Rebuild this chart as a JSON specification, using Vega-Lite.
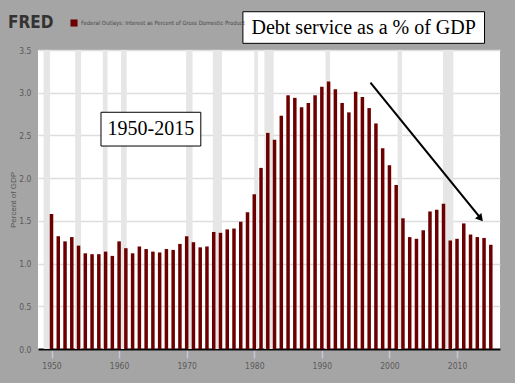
{
  "$schema": "https://vega.github.io/schema/vega-lite/v6.json",
  "width": 462,
  "height": 299,
  "autosize": {"type": "none"},
  "padding": {"left": 38, "top": 50, "right": 15, "bottom": 34},
  "background": "#a5a5a5",
  "datasets": {
    "series": [
      {"year": 1950, "value": 1.58}, {"year": 1951, "value": 1.32}, {"year": 1952, "value": 1.26},
      {"year": 1953, "value": 1.31}, {"year": 1954, "value": 1.21}, {"year": 1955, "value": 1.12},
      {"year": 1956, "value": 1.11}, {"year": 1957, "value": 1.11}, {"year": 1958, "value": 1.14},
      {"year": 1959, "value": 1.09}, {"year": 1960, "value": 1.26}, {"year": 1961, "value": 1.18},
      {"year": 1962, "value": 1.12}, {"year": 1963, "value": 1.20}, {"year": 1964, "value": 1.17},
      {"year": 1965, "value": 1.14}, {"year": 1966, "value": 1.13}, {"year": 1967, "value": 1.17},
      {"year": 1968, "value": 1.16}, {"year": 1969, "value": 1.23}, {"year": 1970, "value": 1.32},
      {"year": 1971, "value": 1.25}, {"year": 1972, "value": 1.19}, {"year": 1973, "value": 1.20},
      {"year": 1974, "value": 1.37}, {"year": 1975, "value": 1.36}, {"year": 1976, "value": 1.40},
      {"year": 1977, "value": 1.41}, {"year": 1978, "value": 1.49}, {"year": 1979, "value": 1.60},
      {"year": 1980, "value": 1.81}, {"year": 1981, "value": 2.12}, {"year": 1982, "value": 2.53},
      {"year": 1983, "value": 2.45}, {"year": 1984, "value": 2.73}, {"year": 1985, "value": 2.97},
      {"year": 1986, "value": 2.94}, {"year": 1987, "value": 2.83}, {"year": 1988, "value": 2.88},
      {"year": 1989, "value": 2.97}, {"year": 1990, "value": 3.07}, {"year": 1991, "value": 3.13},
      {"year": 1992, "value": 3.04}, {"year": 1993, "value": 2.88}, {"year": 1994, "value": 2.77},
      {"year": 1995, "value": 3.01}, {"year": 1996, "value": 2.95}, {"year": 1997, "value": 2.82},
      {"year": 1998, "value": 2.64}, {"year": 1999, "value": 2.35}, {"year": 2000, "value": 2.15},
      {"year": 2001, "value": 1.92}, {"year": 2002, "value": 1.53}, {"year": 2003, "value": 1.31},
      {"year": 2004, "value": 1.29}, {"year": 2005, "value": 1.39}, {"year": 2006, "value": 1.61},
      {"year": 2007, "value": 1.63}, {"year": 2008, "value": 1.70}, {"year": 2009, "value": 1.27},
      {"year": 2010, "value": 1.29}, {"year": 2011, "value": 1.47}, {"year": 2012, "value": 1.34},
      {"year": 2013, "value": 1.31}, {"year": 2014, "value": 1.30}, {"year": 2015, "value": 1.22}
    ],
    "recessions": [
      {"start": 1948.83, "end": 1949.79},
      {"start": 1953.5, "end": 1954.37},
      {"start": 1957.58, "end": 1958.29},
      {"start": 1960.29, "end": 1961.12},
      {"start": 1969.92, "end": 1970.87},
      {"start": 1973.87, "end": 1975.21},
      {"start": 1980.0, "end": 1980.54},
      {"start": 1981.5, "end": 1982.87},
      {"start": 1990.54, "end": 1991.21},
      {"start": 2001.21, "end": 2001.87},
      {"start": 2007.92, "end": 2009.46}
    ],
    "boxes": [
      {"x1": 1957.32, "x2": 1972.09, "y1": 2.376, "y2": 2.771, "xc": 1964.71, "yc": 2.573, "label": "1950-2015"},
      {"x1": 1978.32, "x2": 2014.07, "y1": 3.578, "y2": 3.948, "xc": 1996.19, "yc": 3.763, "label": "Debt service as a % of GDP"}
    ],
    "arrow": [
      {"x": 1997.19, "y": 3.117, "order": 1},
      {"x": 2013.3, "y": 1.55, "order": 2}
    ],
    "arrowhead": [
      {"x": 2013.48, "y": 1.527}
    ]
  },
  "layer": [
    {
      "data": {"name": "recessions"},
      "mark": {"type": "rect", "color": "#e6e6e6"},
      "encoding": {
        "x": {"field": "start", "type": "quantitative", "scale": {"domain": [1948.74, 2015.62], "nice": false, "zero": false}},
        "x2": {"field": "end"}
      }
    },
    {
      "data": {"name": "series"},
      "mark": {"type": "bar", "size": 3.5},
      "encoding": {
        "x": {
          "field": "year", "type": "quantitative",
          "scale": {"domain": [1948.74, 2015.62], "nice": false, "zero": false},
          "axis": {
            "title": null,
            "values": [1950, 1955, 1960, 1965, 1970, 1975, 1980, 1985, 1990, 1995, 2000, 2005, 2010, 2015],
            "format": "d", "grid": false, "domainColor": "#000000", "domainWidth": 2,
            "tickColor": "#c2c8d4", "tickSize": 9, "tickWidth": 1.5,
            "labelColor": "#5a5a5a", "labelFont": "Liberation Sans Narrow, DejaVu Sans Condensed, Liberation Sans, sans-serif", "labelFontSize": 8.5, "labelPadding": 3
          }
        },
        "y": {
          "field": "value", "type": "quantitative",
          "scale": {"domain": [0, 3.5], "nice": false},
          "axis": {
            "title": "Percent of GDP",
            "values": [0, 0.5, 1, 1.5, 2, 2.5, 3, 3.5], "format": ".1f",
            "domain": false, "ticks": false, "gridColor": "#dddddd", "gridWidth": 1.5,
            "labelColor": "#5a5a5a", "labelFont": "Liberation Sans Narrow, DejaVu Sans Condensed, Liberation Sans, sans-serif", "labelFontSize": 8.5, "labelPadding": 7,
            "titleColor": "#555555", "titleFont": "Liberation Sans, sans-serif", "titleFontSize": 8, "titleFontWeight": "normal", "titlePadding": 1
          }
        },
        "color": {
          "datum": "Federal Outlays: Interest as Percent of Gross Domestic Product",
          "scale": {"range": ["#6c0000"]},
          "legend": {
            "orient": "none", "legendX": -30, "legendY": -31,
            "title": "FRED", "titleOrient": "left", "titleFont": "Liberation Sans Narrow, DejaVu Sans Condensed, Liberation Sans, sans-serif",
            "titleFontSize": 17, "titleFontWeight": "bold", "titleColor": "#333333", "titlePadding": 16, "titleBaseline": "middle",
            "symbolType": "square", "symbolSize": 50, "symbolStrokeWidth": 0,
            "labelFont": "Liberation Sans Narrow, DejaVu Sans Condensed, Liberation Sans, sans-serif", "labelFontSize": 5.8, "labelColor": "#4a4a4a", "labelOffset": 3, "labelLimit": 400, "padding": 0
          }
        }
      }
    },
    {
      "data": {"name": "boxes"},
      "mark": {"type": "rect", "fill": "#ffffff", "stroke": "#000000", "strokeWidth": 1},
      "encoding": {
        "x": {"field": "x1", "type": "quantitative", "scale": {"domain": [1948.74, 2015.62], "nice": false, "zero": false}},
        "x2": {"field": "x2"},
        "y": {"field": "y1", "type": "quantitative"},
        "y2": {"field": "y2"}
      }
    },
    {
      "data": {"name": "boxes"},
      "mark": {"type": "text", "font": "Liberation Serif", "fontSize": 20, "color": "#000000", "align": "center", "baseline": "middle"},
      "encoding": {
        "x": {"field": "xc", "type": "quantitative"},
        "y": {"field": "yc", "type": "quantitative"},
        "text": {"field": "label"}
      }
    },
    {
      "data": {"name": "arrow"},
      "mark": {"type": "line", "color": "#000000", "strokeWidth": 2},
      "encoding": {
        "x": {"field": "x", "type": "quantitative"},
        "y": {"field": "y", "type": "quantitative"},
        "order": {"field": "order"}
      }
    },
    {
      "data": {"name": "arrowhead"},
      "mark": {"type": "point", "shape": "triangle-up", "filled": true, "color": "#000000", "size": 70, "angle": 140, "opacity": 1},
      "encoding": {
        "x": {"field": "x", "type": "quantitative"},
        "y": {"field": "y", "type": "quantitative"}
      }
    }
  ],
  "config": {
    "view": {"fill": "#ffffff", "stroke": null}
  }
}
